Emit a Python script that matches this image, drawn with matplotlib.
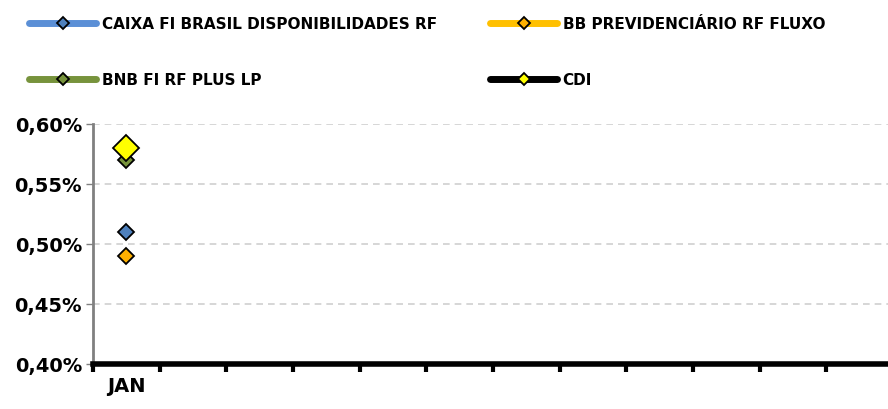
import matplotlib.pyplot as plt
from matplotlib.lines import Line2D
from matplotlib.ticker import FuncFormatter, FixedLocator

plt.rcParams['font.family'] = ['DejaVu Sans']
plt.rcParams['font.weight'] = 'bold'

months = ["JAN", "FEV", "MAR", "ABR", "MAI", "JUN", "JUL", "AGO", "SET", "OUT", "NOV", "DEZ"]
series_names = ["CAIXA FI BRASIL DISPONIBILIDADES RF", "BB PREVIDENCIÁRIO RF FLUXO",
                "BNB FI RF PLUS LP", "CDI"]
caixa = [0.51]
bb = [0.49]
bnb = [0.57]
cdi = [0.58]

line_colors = ["#5B8FD6", "#FFC000", "#77933C", "#000000"]
face_colors = ["#4F81BD", "#FFB000", "#77933C", "#FFFF00"]
marker_sizes = [8, 8, 8, 13]

fig = plt.figure(figsize=(8.88, 4.10), dpi=100)
ax = fig.add_axes([93 / 888, 45 / 410, 800 / 888, 240 / 410])

for vals, lc, fc, ms in zip([caixa, bb, bnb, cdi], line_colors, face_colors, marker_sizes):
    ax.plot(range(len(vals)), vals, color=lc, lw=3, marker="D", ms=ms,
            mfc=fc, mec="black", mew=1.3, zorder=3)

ax.set_xlim(-0.5, 11.5)
ax.set_ylim(0.40, 0.60)
ax.set_yticks([0.40, 0.45, 0.50, 0.55, 0.60])
ax.yaxis.set_major_formatter(FuncFormatter(lambda v, p: f"{v:.2f}%".replace(".", ",")))
ax.grid(axis="y", color="#D0D0D0", ls=(0, (4, 3)), lw=1.2)
ax.set_axisbelow(True)

ax.set_xticks(range(len(caixa)))
ax.set_xticklabels(months[:len(caixa)])
ax.xaxis.set_minor_locator(FixedLocator([i - 0.5 for i in range(13)]))
ax.tick_params(axis="x", which="major", length=0, pad=9, labelsize=14)
ax.tick_params(axis="x", which="minor", length=6, width=3, color="black")
ax.tick_params(axis="y", length=5, width=1, color="#808080", labelsize=14, pad=3)

for s in ["top", "right"]:
    ax.spines[s].set_visible(False)
ax.spines["left"].set_color("#808080")
ax.spines["left"].set_linewidth(2)
ax.spines["bottom"].set_color("black")
ax.spines["bottom"].set_linewidth(4)

handles = [Line2D([], [], color=lc, lw=5, marker="D", ms=6, mfc=fc, mec="black",
                  mew=1.3, solid_capstyle="round")
           for lc, fc in zip(line_colors, face_colors)]
leg_kw = dict(loc="upper left", frameon=False, handlelength=4.4, handletextpad=0.35,
              labelspacing=2.68, borderpad=0, borderaxespad=0,
              prop={"size": 11, "weight": "bold"})
leg1 = fig.legend([handles[0], handles[2]], [series_names[0], series_names[2]],
                  bbox_to_anchor=(29 / 888, 1 - 17 / 410), **leg_kw)
leg2 = fig.legend([handles[1], handles[3]], [series_names[1], series_names[3]],
                  bbox_to_anchor=(490 / 888, 1 - 17 / 410), **leg_kw)

fig.savefig("out.png", dpi=100)
